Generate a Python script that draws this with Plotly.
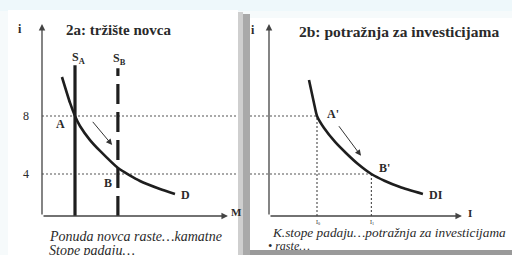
import plotly.graph_objects as go

W, H = 512, 255

# ---------------- data ----------------
i_levels = [4, 8]
i_tick_text = ["4", "8"]
M_SA = 2.0
M_SB = 4.6
supply_top = [11.5, 11.3]          # top of S_A, S_B lines (interest units)
demand_M = [1.21, 1.70, 2.00, 2.30, 2.91, 3.52, 4.61, 5.94, 7.15, 8.06]
demand_i = [10.69, 8.90, 8.00, 7.31, 6.34, 5.59, 4.41, 3.52, 2.97, 2.62]
inv_I = [2.50, 2.81, 3.00, 3.44, 4.13, 4.81, 5.56, 6.40, 7.25, 8.19, 9.62]
inv_i = [10.48, 8.90, 8.00, 7.17, 6.21, 5.45, 4.69, 4.00, 3.52, 3.10, 2.62]
I0, I1 = 3.0, 6.4
arrow_money = [[3.0, 7.7], [4.25, 6.0]]   # (start, end) of movement arrow
arrow_inv = [[4.3, 7.4], [5.75, 5.25]]

# ---------------- scales ----------------
Y_MIN, Y_MAX = 1.103, 14.345
XL = [0, 11.88]
XL_ARROW = 11.27
XR = [-1.1875, 15.1875]
XR_ARROW = 12.06

def px(x):
    return x / W

def py(y):
    return 1 - y / H

serif = "Liberation Serif"
ink = "#1e1e1e"
dot = "#555555"

fig = go.Figure()

for lv in i_levels:
    fig.add_trace(go.Scatter(x=[XL[0], XL[1]], y=[lv, lv], mode="lines",
                             line=dict(color=dot, width=1.2, dash="2px,2px"),
                             xaxis="x", yaxis="y", hoverinfo="skip"))
fig.add_trace(go.Scatter(x=[M_SA, M_SA], y=[Y_MIN, supply_top[0]], mode="lines",
                         line=dict(color=ink, width=3.2), xaxis="x", yaxis="y"))
fig.add_trace(go.Scatter(x=[M_SB, M_SB], y=[Y_MIN, supply_top[1]], mode="lines",
                         line=dict(color=ink, width=3.2, dash="20px,8px"), xaxis="x", yaxis="y"))
fig.add_trace(go.Scatter(x=demand_M, y=demand_i, mode="lines",
                         line=dict(color=ink, width=2.6, shape="spline", smoothing=0.6),
                         xaxis="x", yaxis="y"))

fig.add_trace(go.Scatter(x=[XR[0], I0], y=[i_levels[1], i_levels[1]], mode="lines",
                         line=dict(color=dot, width=1.2, dash="2px,2px"), xaxis="x2", yaxis="y2"))
fig.add_trace(go.Scatter(x=[XR[0], I1], y=[i_levels[0], i_levels[0]], mode="lines",
                         line=dict(color=dot, width=1.2, dash="2px,2px"), xaxis="x2", yaxis="y2"))
fig.add_trace(go.Scatter(x=[I0, I0], y=[Y_MIN, i_levels[1]], mode="lines",
                         line=dict(color=dot, width=1.2, dash="2px,2px"), xaxis="x2", yaxis="y2"))
fig.add_trace(go.Scatter(x=[I1, I1], y=[Y_MIN, i_levels[0]], mode="lines",
                         line=dict(color=dot, width=1.2, dash="2px,2px"), xaxis="x2", yaxis="y2"))
fig.add_trace(go.Scatter(x=inv_I, y=inv_i, mode="lines",
                         line=dict(color=ink, width=2.6, shape="spline", smoothing=0.6),
                         xaxis="x2", yaxis="y2"))

ann = []

def arrow(xh, yh, xt, yt, xr, yr, w=1.3, color="#444", size=1.0, head=2):
    ann.append(dict(x=xh, y=yh, ax=xt, ay=yt, xref=xr, yref=yr, axref=xr, ayref=yr,
                    text="", showarrow=True, arrowhead=head, arrowsize=size,
                    arrowwidth=w, arrowcolor=color, standoff=0, startstandoff=0))

arrow(0, Y_MAX, 0, Y_MIN, "x", "y")
arrow(XL_ARROW, Y_MIN, 0, Y_MIN, "x", "y")
arrow(0, Y_MAX, 0, Y_MIN, "x2", "y2")
arrow(XR_ARROW, Y_MIN, 0, Y_MIN, "x2", "y2")
arrow(arrow_money[1][0], arrow_money[1][1], arrow_money[0][0], arrow_money[0][1], "x", "y",
      w=1.0, color="#333", size=1.2)
arrow(arrow_inv[1][0], arrow_inv[1][1], arrow_inv[0][0], arrow_inv[0][1], "x2", "y2",
      w=1.0, color="#333", size=1.2)

def label(text, x, y, xr, yr, dx=0, dy=0, size=12, anchor="center", bold=True):
    t = f"<b>{text}</b>" if bold else text
    ann.append(dict(x=x, y=y, xref=xr, yref=yr, text=t, showarrow=False,
                    xshift=dx, yshift=dy, xanchor=anchor, yanchor="middle",
                    font=dict(family=serif, size=size, color="#2a2a2a")))

label("S<sub>A</sub>", M_SA, supply_top[0], "x", "y", dx=3, dy=7, size=12)
label("S<sub>B</sub>", M_SB, supply_top[1], "x", "y", dx=2, dy=9, size=12)
label("A", M_SA, i_levels[1], "x", "y", dx=-15, dy=-8, size=12)
label("B", M_SB, i_levels[0], "x", "y", dx=-10, dy=-9, size=12)
label("D", demand_M[-1], demand_i[-1], "x", "y", dx=4, dy=-1, size=12, anchor="left")
label("A'", I0, i_levels[1], "x2", "y2", dx=16, dy=2, size=12)
label("B'", I1, i_levels[0], "x2", "y2", dx=13, dy=6, size=12)
label("DI", inv_I[-1], inv_i[-1], "x2", "y2", dx=4, dy=-1, size=12, anchor="left")
label("I<sub>0</sub>", I0, Y_MIN, "x2", "y2", dx=1, dy=-6, size=6, bold=False)
label("I<sub>1</sub>", I1, Y_MIN, "x2", "y2", dx=1, dy=-6, size=6, bold=False)

def ptext(text, x, y, size=12, anchor="left", bold=False, italic=False, color="#2a2a2a"):
    t = text
    if bold:
        t = f"<b>{t}</b>"
    if italic:
        t = f"<i>{t}</i>"
    ann.append(dict(x=px(x), y=py(y), xref="paper", yref="paper", text=t, showarrow=False,
                    xanchor=anchor, yanchor="middle",
                    font=dict(family=serif, size=size, color=color)))

ptext("i", 20, 29, size=12, anchor="center", bold=True)
ptext("i", 253, 30, size=12, anchor="center", bold=True)
ptext("2a: tržište novca", 64, 30, size=15, bold=True)
ptext("2b: potražnja za investicijama", 297, 31, size=15.5, bold=True)
ptext("M", 229, 212, size=11, bold=True)
ptext("I", 466, 213, size=11, bold=True)
ptext("Ponuda novca raste…kamatne", 47, 236, size=14, italic=True)
ptext("Stope padaju…", 47, 250, size=14, italic=True)
ptext("K.stope padaju…potražnja za investicijama", 270, 232, size=13.3, italic=True)
ptext("• raste…", 266, 246, size=12, italic=True)

shapes = [
    dict(type="rect", xref="paper", yref="paper", x0=0, x1=1, y0=py(11), y1=1,
         fillcolor="#eef8fb", line=dict(width=0), layer="below"),
    dict(type="rect", xref="paper", yref="paper", x0=px(8), x1=px(238), y0=0, y1=py(10),
         fillcolor="white", line=dict(width=0), layer="below"),
    dict(type="rect", xref="paper", yref="paper", x0=px(238), x1=px(243), y0=0, y1=py(12),
         fillcolor="#cfcfcf", line=dict(width=0), layer="below"),
    dict(type="rect", xref="paper", yref="paper", x0=px(243), x1=px(250), y0=0, y1=py(14),
         fillcolor="#a9a9a9", line=dict(width=0), layer="below"),
    dict(type="rect", xref="paper", yref="paper", x0=px(250), x1=1, y0=0, y1=py(250),
         fillcolor="#9a9a9a", line=dict(width=0), layer="below"),
    dict(type="rect", xref="paper", yref="paper", x0=px(250), x1=1, y0=py(250), y1=py(18),
         fillcolor="white", line=dict(width=0), layer="below"),
]

ydom = [py(216), py(24)]
fig.update_layout(
    width=W, height=H, margin=dict(l=0, r=0, t=0, b=0, autoexpand=False),
    paper_bgcolor="#f6fafb", plot_bgcolor="rgba(0,0,0,0)",
    showlegend=False,
    font=dict(family=serif, color="#2a2a2a"),
    xaxis=dict(domain=[px(42), px(238)], range=XL, visible=False, fixedrange=True),
    yaxis=dict(domain=ydom, range=[Y_MIN, Y_MAX], showgrid=False, zeroline=False,
               showline=False, tickvals=i_levels, ticktext=i_tick_text, ticks="",
               ticklabelstandoff=12, anchor="x", automargin=False, fixedrange=True,
               tickfont=dict(family=serif, size=12, color="#2a2a2a")),
    xaxis2=dict(domain=[px(250), 1], range=XR, visible=False, fixedrange=True),
    yaxis2=dict(domain=ydom, range=[Y_MIN, Y_MAX], visible=False, anchor="x2", fixedrange=True),
    annotations=ann, shapes=shapes,
)

fig.write_html("out.html", config={"displayModeBar": False},
               post_script="document.body.style.margin='0';document.body.style.padding='0';")
